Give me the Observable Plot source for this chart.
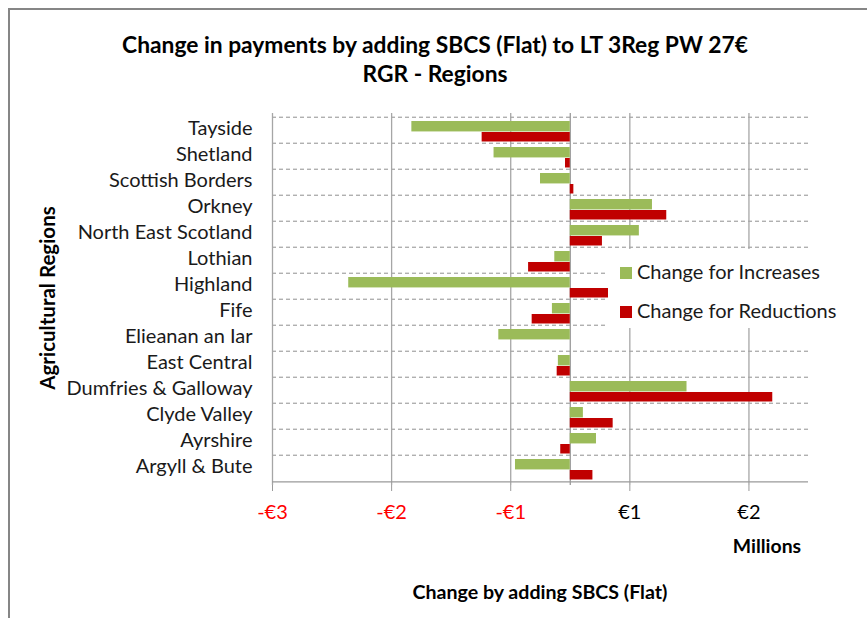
<!DOCTYPE html>
<html><head><meta charset="utf-8">
<script src="https://cdn.jsdelivr.net/npm/d3@7"></script>
<script src="https://cdn.jsdelivr.net/npm/@observablehq/plot@0.6"></script>
<style>
body{margin:0;background:#fff;font-family:Lato,"Open Sans",sans-serif;}
#wrap{position:relative;width:867px;height:618px;overflow:hidden;background:#fff;}
#border{position:absolute;left:8px;top:8px;width:900px;height:700px;border-left:2px solid #868686;border-top:2px solid #868686;}
.lbl{position:absolute;white-space:nowrap;color:#000;}
#plot{position:absolute;left:0;top:0;}
#legend{position:absolute;left:608px;top:249px;width:237px;height:79px;background:#fff;}
.li{position:absolute;left:12px;height:20px;line-height:20px;font-size:20px;color:#1a1a1a;white-space:nowrap;}
.sw{display:inline-block;width:12px;height:12px;margin-right:5px;vertical-align:0px;}
</style></head>
<body>
<div id="wrap">
  <div id="border"></div>
  <div id="plot"></div>
  <div class="lbl" id="t1" style="left:0;width:870px;top:29px;line-height:30px;text-align:center;font-weight:bold;font-size:22.8px;"></div>
  <div class="lbl" id="t2" style="left:0;width:870px;top:58px;line-height:30px;text-align:center;font-weight:bold;font-size:22.8px;"></div>
  <div class="lbl" id="ytitle" style="left:47px;top:298px;font-weight:bold;font-size:20.5px;transform:translate(-50%,-50%) rotate(-90deg);"></div>
  <div class="lbl" id="units" style="left:767px;top:545px;font-weight:bold;font-size:19.4px;transform:translate(-50%,-50%);"></div>
  <div class="lbl" id="xtitle" style="left:540px;top:591px;font-weight:bold;font-size:19.6px;transform:translate(-50%,-50%);"></div>
  <div id="legend"></div>
</div>
<script>
const titleLines = ["Change in payments by adding SBCS (Flat) to LT 3Reg PW 27€", "RGR - Regions"];
const yTitle = "Agricultural Regions";
const xTitle = "Change by adding SBCS (Flat)";
const unitsLabel = "Millions";
const regions = ["Tayside","Shetland","Scottish Borders","Orkney","North East Scotland","Lothian","Highland","Fife","Elieanan an Iar","East Central","Dumfries & Galloway","Clyde Valley","Ayrshire","Argyll & Bute"];
const increases = [-1.33,-0.64,-0.25,0.69,0.58,-0.13,-1.86,-0.15,-0.60,-0.10,0.98,0.11,0.22,-0.46];
const reductions = [-0.74,-0.04,0.03,0.81,0.27,-0.35,0.33,-0.32,0.0,-0.11,1.70,0.36,-0.08,0.19];
const tickValues = [-2.5,-1.5,-0.5,0.5,1.5];
const tickLabels = ["-€3","-€2","-€1","€1","€2"];
const seriesNames = ["Change for Increases","Change for Reductions"];
const seriesColors = ["#9BBB59","#C00000"];

document.getElementById("t1").textContent = titleLines[0];
document.getElementById("t2").textContent = titleLines[1];
document.getElementById("ytitle").textContent = yTitle;
document.getElementById("xtitle").textContent = xTitle;
document.getElementById("units").textContent = unitsLabel;

const W = 867, H = 618, mL = 272, mR = 59, mT = 113, mB = 133;
const bw = (H - mT - mB) / regions.length;
const rows = regions.map((r, i) => ({region: r, inc: increases[i], red: reductions[i]}));

const chart = Plot.plot({
  width: W, height: H,
  marginLeft: mL, marginRight: mR, marginTop: mT, marginBottom: mB,
  style: {fontFamily: "Lato, sans-serif", fontSize: "20px", color: "#000", background: "transparent", overflow: "visible"},
  x: {domain: [-2.5, 2], axis: null},
  y: {domain: regions, type: "band", padding: 0, axis: null},
  marks: [
    Plot.ruleY(regions, {y: d => d, dy: -bw / 2, stroke: "#8f8f8f", strokeDasharray: "4,3", strokeWidth: 1}),
    Plot.ruleX(tickValues, {x: d => d, stroke: "#a6a6a6", strokeWidth: 1.3}),
    Plot.ruleX([0], {x: d => d, stroke: "#9a9a9a", strokeWidth: 1.3}),
    Plot.barX(rows, {y: "region", x: "inc", fill: seriesColors[0], insetTop: 4, insetBottom: bw - 15}),
    Plot.barX(rows, {y: "region", x: "red", fill: seriesColors[1], insetTop: 15, insetBottom: 1.5}),
    Plot.ruleY([regions[regions.length - 1]], {y: d => d, dy: bw / 2, stroke: "#9a9a9a", strokeWidth: 1.3}),
    Plot.axisX(tickValues, {tickSize: 6, tickFormat: () => "", stroke: "#9a9a9a", label: null}),
    Plot.text(tickValues, {x: d => d, frameAnchor: "bottom", dy: 33, text: (d, i) => tickLabels[i], fill: d => d < 0 ? "#FF0000" : "#000", fontSize: 20}),
    Plot.text(regions, {y: d => d, frameAnchor: "left", textAnchor: "end", dx: -20, dy: -2, text: d => d, fill: "#1a1a1a", fontSize: 20})
  ]
});
document.getElementById("plot").appendChild(chart);

const legend = document.getElementById("legend");
seriesNames.forEach((name, i) => {
  const item = document.createElement("div");
  item.className = "li";
  item.style.top = (i === 0 ? 12 : 51) + "px";
  const sw = document.createElement("span");
  sw.className = "sw";
  sw.style.background = seriesColors[i];
  item.appendChild(sw);
  item.appendChild(document.createTextNode(name));
  legend.appendChild(item);
});
</script>
</body></html>
